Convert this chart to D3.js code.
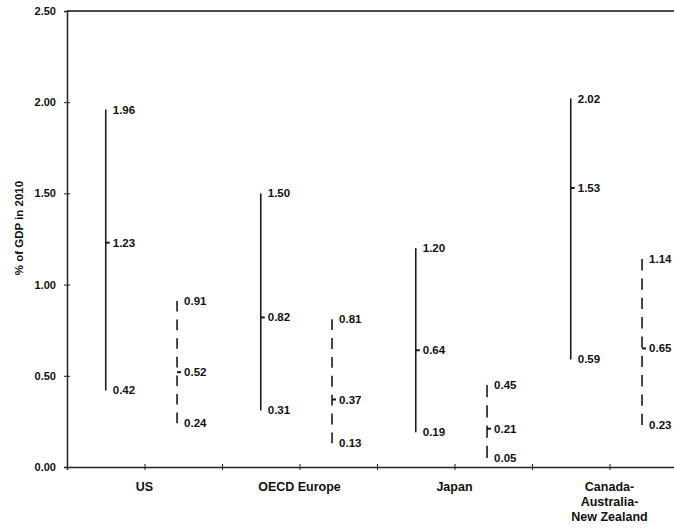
<!DOCTYPE html>
<meta charset="utf-8">
<script src="https://d3js.org/d3.v7.min.js"></script>
<style>
  body { margin: 0; background: #fff; }
  text { font-family: "Liberation Sans", Arial, sans-serif; font-weight: bold; fill: #111; }
</style>
<div id="chart"></div>
<script>

// regions, with their label lines
var regions = ["US", "OECD Europe", "Japan", "Canada-Australia-New Zealand"];
var regionLines = [["US"], ["OECD Europe"], ["Japan"], ["Canada-", "Australia-", "New Zealand"]];

// solid series (high / mid / low)
var solidHigh = [1.96, 1.50, 1.20, 2.02];
var solidMid  = [1.23, 0.82, 0.64, 1.53];
var solidLow  = [0.42, 0.31, 0.19, 0.59];

// dashed series (high / mid / low)
var dashHigh = [0.91, 0.81, 0.45, 1.14];
var dashMid  = [0.52, 0.37, 0.21, 0.65];
var dashLow  = [0.24, 0.13, 0.05, 0.23];

var yTicks = [0, 0.5, 1, 1.5, 2, 2.5];

var W = 674, H = 531;
var margin = {top: 11, left: 67, bottom: 64};

var svg = d3.select("#chart").append("svg")
  .attr("width", W).attr("height", H);

// x: one unit per region
var x = d3.scaleLinear().domain([0, regions.length]).range([margin.left, 687]);
var y = d3.scaleLinear().domain([0, 2.5]).range([H - margin.bottom, margin.top]);

// top frame line
svg.append("line")
  .attr("x1", x(0)).attr("x2", x(4))
  .attr("y1", y(2.5)).attr("y2", y(2.5))
  .attr("stroke", "#111").attr("stroke-width", 1.6);

// Y axis
var yAxis = svg.append("g")
  .attr("transform", "translate(" + x(0) + ",0)")
  .call(d3.axisLeft(y).tickValues(yTicks).tickFormat(d3.format(".2f")).tickSizeOuter(0).tickSize(3).tickPadding(8));
yAxis.select(".domain").attr("stroke", "#222").attr("stroke-width", 1.5);
yAxis.selectAll(".tick line").attr("x1", -3).attr("x2", 3).attr("stroke", "#222");
yAxis.selectAll(".tick text").style("font-size", "11px").style("font-family", "Liberation Sans, Arial, sans-serif").style("font-weight", "bold").attr("fill", "#111");

// X axis: ticks at region edges and centres
var xAxis = svg.append("g")
  .attr("transform", "translate(0," + y(0) + ")")
  .call(d3.axisBottom(x).tickValues(d3.range(0, regions.length + 0.01, 0.5)).tickFormat("").tickSizeOuter(0).tickSize(3));
xAxis.select(".domain").attr("stroke", "#222").attr("stroke-width", 1.5);
xAxis.selectAll(".tick line").attr("y1", -3).attr("y2", 3).attr("stroke", "#222");

// region labels
regionLines.forEach(function(lines, i) {
  var t = svg.append("text")
    .attr("x", x(i + 0.5))
    .attr("y", y(0) + 24)
    .attr("text-anchor", "middle")
    .style("font-size", "12.5px");
  lines.forEach(function(l, j) {
    t.append("tspan").attr("x", x(i + 0.5)).attr("dy", j === 0 ? 0 : 15).text(l);
  });
});

// y title
svg.append("text")
  .attr("transform", "translate(23," + y(1.31) + ") rotate(-90)")
  .attr("text-anchor", "middle")
  .style("font-size", "11.5px")
  .text("% of GDP in 2010");

// draw one series of ranges
function drawRange(high, mid, low, offset, dashed) {
  var g = svg.append("g");
  var rows = regions.map(function(r, i) { return {i: i, high: high[i], mid: mid[i], low: low[i]}; });

  g.selectAll("line.range").data(rows).enter().append("line")
    .attr("class", "range")
    .attr("x1", function(d) { return x(d.i + offset); })
    .attr("x2", function(d) { return x(d.i + offset); })
    .attr("y1", function(d) { return y(d.high); })
    .attr("y2", function(d) { return y(d.low); })
    .attr("stroke", "#1a1a1a")
    .attr("stroke-width", 1.6)
    .attr("stroke-dasharray", function(d) {
      if (!dashed) return null;
      // fit whole dashes so the line starts and ends on a dash
      var len = y(d.low) - y(d.high), n = Math.max(1, Math.round((len + 8) / 20));
      var step = (len + 8) / n;
      return (step - 8) + ",8";
    });

  g.selectAll("line.mid").data(rows).enter().append("line")
    .attr("class", "mid")
    .attr("x1", function(d) { return x(d.i + offset); })
    .attr("x2", function(d) { return x(d.i + offset) + 4; })
    .attr("y1", function(d) { return y(d.mid); })
    .attr("y2", function(d) { return y(d.mid); })
    .attr("stroke", "#1a1a1a")
    .attr("stroke-width", 2);

  ["high", "mid", "low"].forEach(function(k) {
    g.selectAll("text." + k).data(rows).enter().append("text")
      .attr("class", k)
      .attr("x", function(d) { return x(d.i + offset) + 7; })
      .attr("y", function(d) { return y(d[k]); })
      .attr("dy", "0.35em")
      .style("font-size", "11.5px")
      .text(function(d) { return d[k].toFixed(2); });
  });
}

drawRange(solidHigh, solidMid, solidLow, 0.25, false);
drawRange(dashHigh, dashMid, dashLow, 0.71, true);

</script>
